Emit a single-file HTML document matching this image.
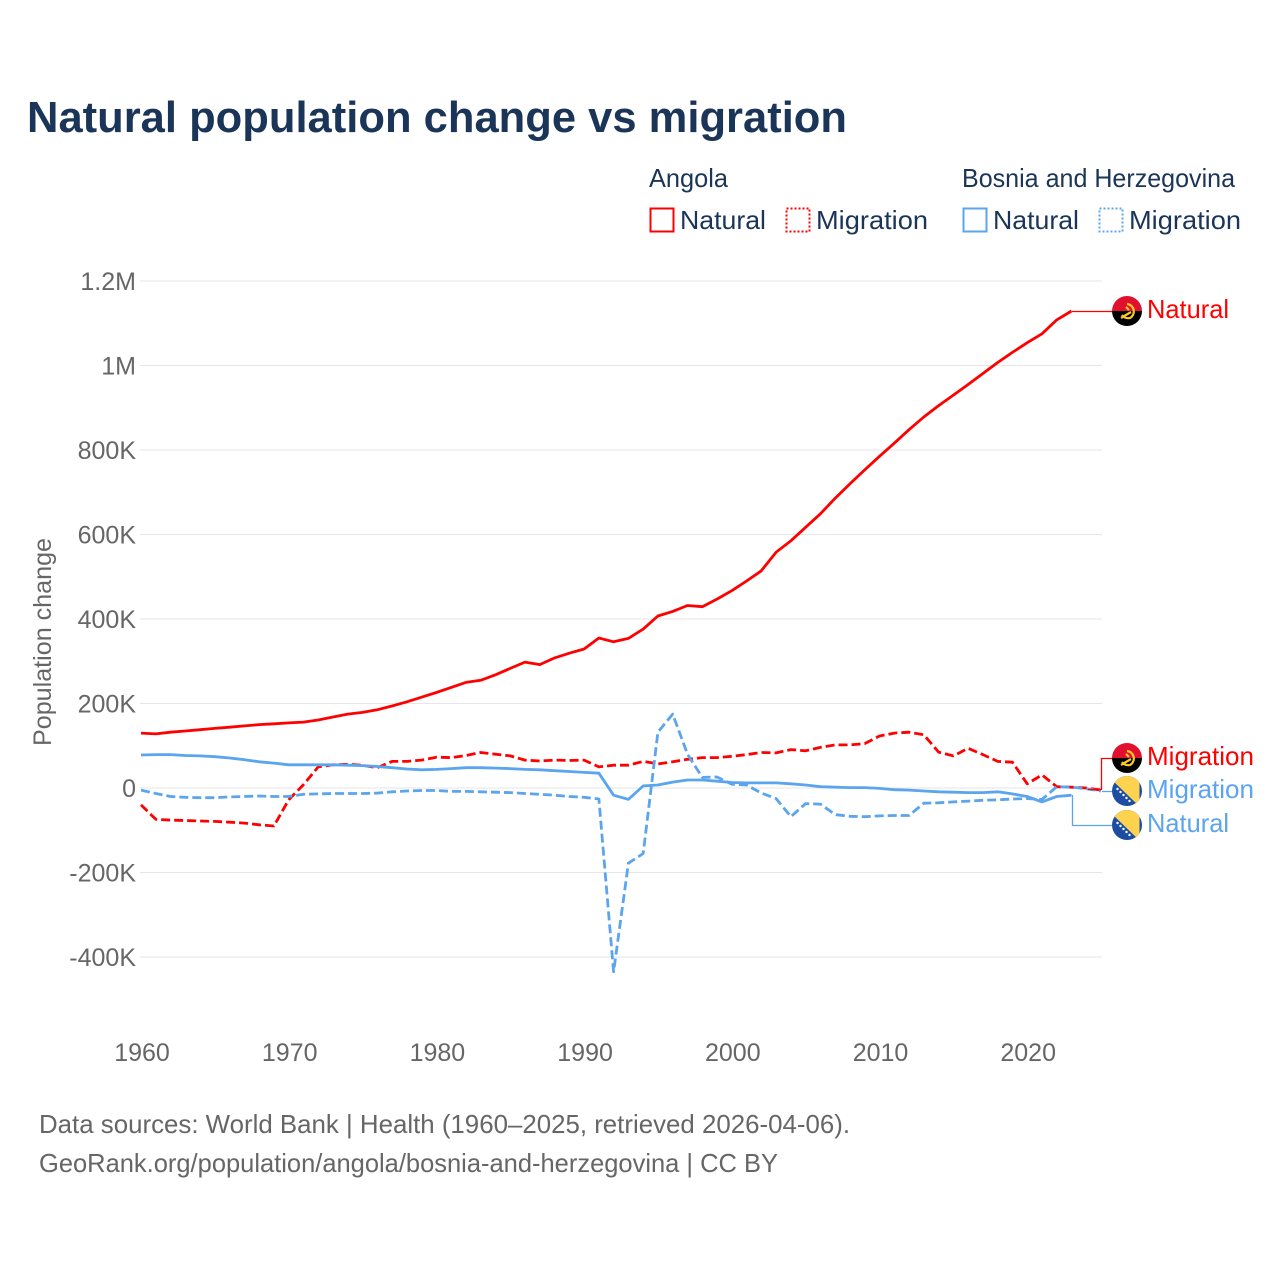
<!DOCTYPE html>
<html lang="en">
<head>
<meta charset="utf-8">
<title>Natural population change vs migration</title>
<style>
html,body{margin:0;padding:0;background:#fff;width:1280px;height:1280px;overflow:hidden}
svg{display:block}
text{font-family:"Liberation Sans",sans-serif}
</style>
</head>
<body>
<svg id="chart" xmlns="http://www.w3.org/2000/svg" width="1280" height="1280" viewBox="0 0 1280 1280">
<defs>
<clipPath id="flag-clip"><circle cx="0" cy="0" r="15"/></clipPath>
</defs>
<rect width="1280" height="1280" fill="#fff"/>
<text x="27" y="132" font-size="44" font-weight="700" fill="#1a3557" textLength="820" lengthAdjust="spacingAndGlyphs">Natural population change vs migration</text>

<g font-size="26" fill="#1a3557">
<text x="649" y="187" textLength="79" lengthAdjust="spacingAndGlyphs">Angola</text>
<text x="962" y="187" textLength="273" lengthAdjust="spacingAndGlyphs">Bosnia and Herzegovina</text>
<rect x="650.5" y="208.5" width="23" height="23" fill="none" stroke="#ff0000" stroke-width="2"/>
<text x="680" y="229" textLength="86" lengthAdjust="spacingAndGlyphs">Natural</text>
<rect x="786.5" y="208.5" width="23" height="23" fill="none" stroke="#ff0000" stroke-width="2" stroke-dasharray="2 2"/>
<text x="816" y="229" textLength="112" lengthAdjust="spacingAndGlyphs">Migration</text>
<rect x="963.5" y="208.5" width="23" height="23" fill="none" stroke="#5ba4ee" stroke-width="2"/>
<text x="993" y="229" textLength="86" lengthAdjust="spacingAndGlyphs">Natural</text>
<rect x="1099.5" y="208.5" width="23" height="23" fill="none" stroke="#5ba4ee" stroke-width="2" stroke-dasharray="2 2"/>
<text x="1129" y="229" textLength="112" lengthAdjust="spacingAndGlyphs">Migration</text>
</g>

<g id="grid"></g>
<g id="y-ticks"></g>
<g id="x-ticks"></g>
<text transform="translate(51,642) rotate(-90)" text-anchor="middle" font-size="25" fill="#666" textLength="208" lengthAdjust="spacingAndGlyphs">Population change</text>
<g id="series"></g>

<g fill="none" stroke-width="1.3">
<path d="M1072 311.5H1112" stroke="#ff0000"/>
<path d="M1088 789.5H1101.5V758.5H1112" stroke="#ff0000"/>
<path d="M1102 791.5H1112" stroke="#5ba4ee"/>
<path d="M1072.5 795V825.5H1112" stroke="#5ba4ee"/>
</g>

<g transform="translate(1127,311)">
<g clip-path="url(#flag-clip)"><rect x="-15" y="-15" width="30" height="15" fill="#e2102f"/><rect x="-15" y="0" width="30" height="15" fill="#000"/></g>
<path d="M0-7A7.5 7.5 0 0 1 3 7Q-2 8-5 4M-6 7L4 1M-1-4L2-1" fill="none" stroke="#f9c928" stroke-width="2.2"/>
</g>
<g transform="translate(1127,758)">
<g clip-path="url(#flag-clip)"><rect x="-15" y="-15" width="30" height="15" fill="#e2102f"/><rect x="-15" y="0" width="30" height="15" fill="#000"/></g>
<path d="M0-7A7.5 7.5 0 0 1 3 7Q-2 8-5 4M-6 7L4 1M-1-4L2-1" fill="none" stroke="#f9c928" stroke-width="2.2"/>
</g>
<g transform="translate(1127,791)">
<g clip-path="url(#flag-clip)"><rect x="-15" y="-15" width="30" height="30" fill="#1c4da1"/><path d="M-15-15H12.5V15.5L-15-11Z" fill="#fdd24f"/></g>
<g fill="#fff"><circle cx="-9.5" cy="-2" r="1.2"/><circle cx="-6.5" cy="1" r="1.2"/><circle cx="-3.5" cy="4" r="1.2"/><circle cx="-0.5" cy="7" r="1.2"/><circle cx="2.5" cy="10" r="1.2"/></g>
</g>
<g transform="translate(1127,825)">
<g clip-path="url(#flag-clip)"><rect x="-15" y="-15" width="30" height="30" fill="#1c4da1"/><path d="M-15-15H12.5V15.5L-15-11Z" fill="#fdd24f"/></g>
<g fill="#fff"><circle cx="-9.5" cy="-2" r="1.2"/><circle cx="-6.5" cy="1" r="1.2"/><circle cx="-3.5" cy="4" r="1.2"/><circle cx="-0.5" cy="7" r="1.2"/><circle cx="2.5" cy="10" r="1.2"/></g>
</g>

<g font-size="26">
<text x="1147" y="318" fill="#ff0000" textLength="82" lengthAdjust="spacingAndGlyphs">Natural</text>
<text x="1147" y="765" fill="#ff0000" textLength="107" lengthAdjust="spacingAndGlyphs">Migration</text>
<text x="1147" y="798" fill="#5ba4ee" textLength="107" lengthAdjust="spacingAndGlyphs">Migration</text>
<text x="1147" y="832" fill="#5ba4ee" textLength="82" lengthAdjust="spacingAndGlyphs">Natural</text>
</g>

<g font-size="26" fill="#666">
<text x="39" y="1133" textLength="811" lengthAdjust="spacingAndGlyphs">Data sources: World Bank | Health (1960–2025, retrieved 2026-04-06).</text>
<text x="39" y="1172" textLength="739" lengthAdjust="spacingAndGlyphs">GeoRank.org/population/angola/bosnia-and-herzegovina | CC BY</text>
</g>
</svg>
<script>
const startYear = 1960;
const yTickValues = [-400, -200, 0, 200, 400, 600, 800, 1000, 1200];
const yTickLabels = ["-400K", "-200K", "0", "200K", "400K", "600K", "800K", "1M", "1.2M"];
const xTickLabels = [1960, 1970, 1980, 1990, 2000, 2010, 2020];

const angolaNatural = [130,128,132,135,138,141,144,147,150,152,154,156,161,168,175,179,185,194,204,215,226,238,250,255,268,283,298,292,308,319,329,355,346,354,376,407,418,432,429,447,467,490,514,558,585,617,649,686,720,753,785,816,848,878,905,930,955,981,1007,1031,1054,1075,1108,1129];
const angolaMigration = [-40,-74,-76,-77,-78,-79,-81,-83,-87,-90,-28,8,50,55,56,54,48,63,63,66,73,72,77,84,80,76,66,64,66,65,66,50,54,54,63,57,62,68,72,72,75,79,84,83,91,88,96,102,102,105,123,130,132,126,85,76,94,79,63,61,10,31,3,2,0,-5];
const bosniaNatural = [78,79,79,77,76,74,71,67,62,59,55,55,55,55,54,53,51,48,45,43,44,46,48,48,47,46,44,43,41,39,37,35,-17,-27,5,7,14,19,19,16,13,12,12,12,10,7,3,2,1,1,-1,-4,-5,-7,-9,-10,-11,-11,-9,-14,-20,-33,-20,-17];
const bosniaMigration = [-5,-13,-20,-22,-23,-23,-21,-20,-19,-20,-20,-15,-14,-13,-13,-13,-12,-9,-7,-6,-6,-8,-8,-9,-10,-11,-13,-15,-17,-20,-22,-26,-435,-178,-155,132,175,80,25,26,9,7,-12,-25,-68,-37,-38,-63,-67,-68,-66,-65,-65,-36,-35,-33,-31,-29,-28,-26,-25,-27,3,2,-2,-7];

const NS = 'http://www.w3.org/2000/svg';
function xScale(year) { return 141 + (year - startYear) * 14.77; }
function yScale(k) { return 788 - k * 0.4225; }

const gridG = document.getElementById('grid');
const yG = document.getElementById('y-ticks');
yTickValues.forEach(function (v, i) {
  const y = yScale(v);
  const line = document.createElementNS(NS, 'line');
  
  
  line.setAttribute('x1', 140);
  line.setAttribute('x2', 1102);
  line.setAttribute('y1', y);
  line.setAttribute('y2', y);
  line.setAttribute('stroke', '#e6e6e6');
  line.setAttribute('stroke-width', 1);
  gridG.appendChild(line);
  const t = document.createElementNS(NS, 'text');
  
  
  t.setAttribute('x', 136);
  t.setAttribute('y', y + 9);
  t.setAttribute('text-anchor', 'end');
  t.setAttribute('font-size', 25);
  t.setAttribute('fill', '#666');
  t.textContent = yTickLabels[i];
  yG.appendChild(t);
});

const xG = document.getElementById('x-ticks');
xTickLabels.forEach(function (yr) {
  const t = document.createElementNS(NS, 'text');
  
  
  t.setAttribute('x', xScale(yr) + 1);
  t.setAttribute('y', 1061);
  t.setAttribute('text-anchor', 'middle');
  t.setAttribute('font-size', 25);
  t.setAttribute('fill', '#666');
  t.textContent = yr;
  xG.appendChild(t);
});

function drawSeries(values, color, dashed, name) {
  const d = values.map(function (v, i) {
    return (i ? 'L' : 'M') + xScale(startYear + i).toFixed(1) + ' ' + yScale(v).toFixed(1);
  }).join('');
  const p = document.createElementNS(NS, 'path');
  
  
  p.setAttribute('d', d);
  p.setAttribute('fill', 'none');
  p.setAttribute('stroke', color);
  p.setAttribute('stroke-width', 2.8);
  p.setAttribute('stroke-linejoin', 'round');
  if (dashed) p.setAttribute('stroke-dasharray', '9 4');
  document.getElementById('series').appendChild(p);
}
drawSeries(angolaNatural, '#ff0000', false, 'line-angola-natural');
drawSeries(angolaMigration, '#ff0000', true, 'line-angola-migration');
drawSeries(bosniaNatural, '#5ba4ee', false, 'line-bosnia-natural');
drawSeries(bosniaMigration, '#5ba4ee', true, 'line-bosnia-migration');
</script>
</body>
</html>
